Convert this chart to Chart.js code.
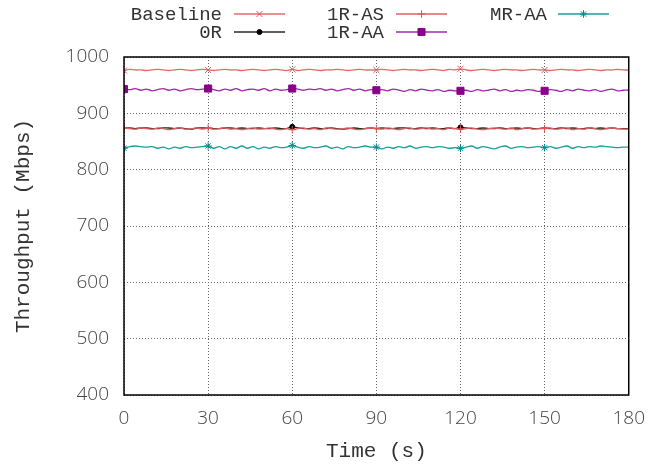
<!DOCTYPE html>
<html>
<head>
<meta charset="utf-8">
<script src="https://cdn.jsdelivr.net/npm/chart.js@4.4.1/dist/chart.umd.min.js"></script>
<style>
  html, body { margin: 0; padding: 0; background: #fff; }
  canvas { display: block; }
</style>
</head>
<body>
<canvas id="chart" width="657" height="466"></canvas>
<script>
// Throughput over time, one sample every 2 s, 0..180 s
const SAMPLE_STEP = 2;
const X_TICKS = [0, 30, 60, 90, 120, 150, 180];
const Y_TICKS = [400, 500, 600, 700, 800, 900, 1000];

const baseline = [
  976, 978, 977, 977, 976, 977, 978, 977, 976, 977, 978, 977, 976, 977, 978,
  977, 976, 977, 978, 977, 977, 976, 977, 978, 977, 976, 977, 978, 977, 976,
  978, 976, 977, 978, 977, 976, 977, 977, 978, 977, 976, 977, 978, 977, 977,
  977, 978, 977, 976, 977, 978, 977, 977, 976, 977, 978, 977, 976, 978, 977,
  979, 977, 976, 977, 978, 977, 976, 977, 978, 977, 977, 976, 977, 978, 977,
  977, 976, 977, 978, 977, 977, 976, 977, 978, 977, 976, 977, 977, 978, 977,
  977
];
const zeroR = [
  874, 874, 873, 874, 874, 873, 873, 874, 874, 873, 874, 873, 872, 874, 874,
  874, 873, 873, 874, 874, 873, 874, 873, 873, 874, 873, 873, 874, 873, 873,
  876, 874, 873, 873, 874, 873, 873, 874, 873, 872, 873, 874, 873, 873, 874,
  873, 874, 873, 873, 874, 874, 873, 873, 874, 873, 874, 873, 873, 874, 873,
  875, 874, 873, 873, 874, 873, 873, 874, 873, 873, 874, 873, 874, 873, 873,
  874, 873, 873, 874, 873, 874, 873, 873, 874, 873, 874, 873, 874, 873, 873,
  873
];
const oneRAS = [
  874, 873, 872, 874, 873, 872, 874, 873, 871, 873, 874, 872, 873, 874, 872,
  874, 872, 873, 874, 872, 873, 871, 873, 874, 872, 873, 874, 872, 871, 873,
  871, 873, 874, 872, 873, 871, 874, 873, 872, 873, 874, 872, 871, 873, 874,
  873, 872, 874, 873, 871, 873, 874, 872, 873, 874, 872, 873, 871, 874, 873,
  872, 873, 874, 872, 871, 873, 874, 873, 872, 874, 871, 873, 874, 872, 873,
  873, 874, 872, 873, 874, 871, 873, 872, 874, 873, 871, 873, 874, 873, 872,
  872
];
const oneRAA = [
  943, 942, 944, 941, 943, 940, 942, 944, 941, 943, 940, 942, 944, 942, 943,
  944, 942, 940, 943, 941, 944, 940, 942, 943, 941, 944, 940, 943, 941, 942,
  944, 943, 941, 943, 942, 944, 941, 943, 940, 942, 944, 941, 943, 940, 942,
  941, 942, 940, 943, 941, 939, 942, 940, 943, 941, 940, 942, 939, 941, 940,
  940, 941, 939, 942, 940, 941, 943, 940, 942, 939, 941, 940, 942, 941, 939,
  940, 942, 941, 939, 942, 940, 943, 941, 940, 942, 939, 941, 943, 940, 941,
  941
];
const mrAA = [
  838, 841, 842, 841, 840, 841, 838, 840, 837, 840, 838, 841, 839, 840, 841,
  842, 838, 841, 837, 841, 838, 842, 838, 841, 837, 840, 838, 841, 839, 840,
  843, 840, 838, 841, 839, 840, 842, 838, 840, 837, 841, 839, 840, 842, 840,
  840, 837, 840, 838, 841, 839, 842, 838, 840, 841, 839, 841, 840, 838, 839,
  838, 840, 842, 838, 841, 839, 837, 840, 842, 838, 840, 841, 839, 840, 841,
  839, 841, 838, 840, 842, 838, 841, 839, 841, 840, 842, 841, 840, 839, 840,
  840
];

const toPoints = (arr) => arr.map((v, i) => ({ x: i * SAMPLE_STEP, y: v }));

// every: marker interval in samples (15 = every 30 s); 0R only shows at 60 s and 120 s
const SERIES = [
  { label: "Baseline", data: baseline, line: "#e06a6a", mark: "#e05555", style: "crossRot", size: 4.3, every: 15 },
  { label: "0R",       data: zeroR,    line: "#2a2a2a", mark: "#000000", style: "circle",   size: 2.5, every: 30 },
  { label: "1R-AS",    data: oneRAS,   line: "#e06060", mark: "#e05555", style: "cross",    size: 3.8, every: 15 },
  { label: "1R-AA",    data: oneRAA,   line: "#a028a8", mark: "#8b008b", style: "rect",     size: 5,   every: 15 },
  { label: "MR-AA",    data: mrAA,     line: "#1a9e9e", mark: "#008b8b", style: "star",     size: 3.8, every: 15 },
];

const showMarker = (s, i) =>
  i % s.every === 0 && i < 90 && (s.every === 15 || i > 0);

// legend laid out like gnuplot: text right-aligned, then sample line
const LEGEND_POS = [
  { tx: 222, lx: 234, y: 14 },
  { tx: 222, lx: 234, y: 32 },
  { tx: 384, lx: 396, y: 14 },
  { tx: 384, lx: 396, y: 32 },
  { tx: 547, lx: 558, y: 14 },
];

const framePlugin = {
  id: "frame",
  afterDatasetsDraw(chart) {
    const { ctx, chartArea: a } = chart;
    ctx.save();
    ctx.strokeStyle = "#000";
    ctx.lineWidth = 1.5;
    ctx.strokeRect(a.left, a.top, a.right - a.left, a.bottom - a.top);
    ctx.restore();
  },
  afterDraw(chart) {
    const ctx = chart.ctx;
    ctx.save();
    ctx.font = '19px "Liberation Mono", monospace';
    ctx.textAlign = "right";
    ctx.textBaseline = "middle";
    SERIES.forEach((s, i) => {
      const p = LEGEND_POS[i];
      ctx.fillStyle = "#333";
      ctx.fillText(s.label, p.tx, p.y + 1);
      ctx.strokeStyle = s.line;
      ctx.lineWidth = 1.3;
      ctx.beginPath();
      ctx.moveTo(p.lx, p.y);
      ctx.lineTo(p.lx + 51, p.y);
      ctx.stroke();
      ctx.fillStyle = s.mark;
      ctx.strokeStyle = s.mark;
      ctx.lineWidth = 1;
      Chart.helpers.drawPoint(ctx, {
        pointStyle: s.style, radius: s.size, rotation: 0, borderWidth: 1
      }, p.lx + 25.5, p.y);
    });
    ctx.restore();
  }
};

const tickFont = { family: '"Open Sans", "DejaVu Sans", sans-serif', size: 19, weight: 300 };
const titleFont = { family: '"Liberation Mono", monospace', size: 21 };

new Chart(document.getElementById("chart"), {
  type: "line",
  data: {
    datasets: SERIES.map((s, i) => ({
      label: s.label,
      data: toPoints(s.data),
      order: SERIES.length - i,
      borderColor: s.line,
      borderWidth: 1.3,
      tension: 0.35,
      pointStyle: s.style,
      pointRadius: (ctx) => (showMarker(s, ctx.dataIndex) ? s.size : 0),
      pointBackgroundColor: s.mark,
      pointBorderColor: s.mark,
      pointBorderWidth: 1,
      fill: false,
    })),
  },
  options: {
    responsive: false,
    animation: false,
    layout: { padding: { top: 57, right: 27, left: 0, bottom: 0 } },
    plugins: { legend: { display: false }, tooltip: { enabled: false } },
    scales: {
      x: {
        type: "linear",
        min: 0,
        max: 180,
        afterBuildTicks: (scale) => { scale.ticks = X_TICKS.map((v) => ({ value: v })); },
        afterFit: (scale) => { scale.height = 71; },
        ticks: { padding: 12, color: "#444", font: tickFont, callback: (v) => String(v) },
        grid: { color: "#666", lineWidth: 1, tickLength: 0, drawTicks: false },
        border: { display: false, dash: [1, 2] },
        title: {
          display: true,
          text: "Time (s)",
          color: "#333",
          font: titleFont,
          padding: { top: 0, bottom: 2 },
        },
      },
      y: {
        min: 400,
        max: 1000,
        afterBuildTicks: (scale) => { scale.ticks = Y_TICKS.map((v) => ({ value: v })); },
        afterFit: (scale) => { scale.width = 124; },
        ticks: { padding: 15, color: "#444", font: tickFont, callback: (v) => String(v) },
        grid: { color: "#666", lineWidth: 1, tickLength: 0, drawTicks: false },
        border: { display: false, dash: [1, 2] },
        title: {
          display: true,
          text: "Throughput (Mbps)",
          color: "#333",
          font: titleFont,
          padding: { top: 11, bottom: 0 },
        },
      },
    },
  },
  plugins: [framePlugin],
});
</script>
</body>
</html>
